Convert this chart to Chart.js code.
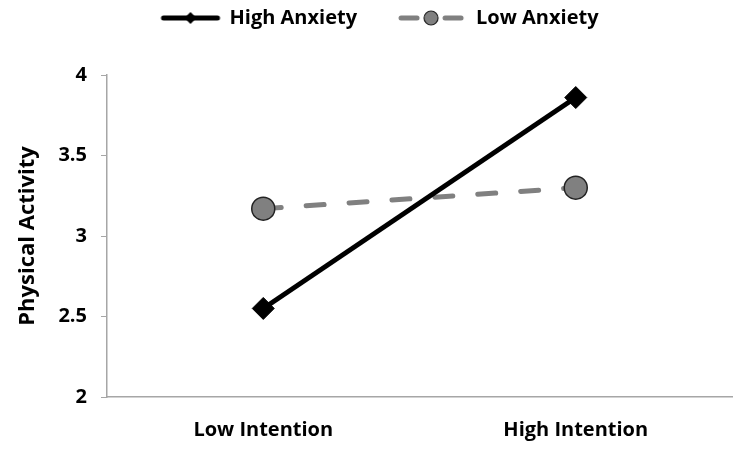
<!DOCTYPE html>
<html><head><meta charset="utf-8">
<script src="https://cdn.jsdelivr.net/npm/chart.js@4/dist/chart.umd.min.js"></script>
<style>html,body{margin:0;padding:0;background:#fff}#wrap{width:745px;height:449px}</style>
</head><body><div id="wrap"><canvas id="c" width="745" height="449"></canvas></div>
<script>
const categories = ["Low Intention", "High Intention"];
const seriesNames = ["High Anxiety", "Low Anxiety"];
const highAnxiety = [2.55, 3.86];
const lowAnxiety = [3.17, 3.30];
const yTicks = [2, 2.5, 3, 3.5, 4];
const yTitle = "Physical Activity";

const FONT = "'Open Sans', sans-serif";
const FS = 20;
const BOXW = 101;

function legendIcon(kind){
  const w = BOXW + 4, h = 18;
  const cv = document.createElement('canvas');
  cv.width = w; cv.height = h;
  const g = cv.getContext('2d');
  const cy = h/2;
  if (kind === 0){
    const a = 45, b = w - 2, m = (a + b) / 2;
    g.strokeStyle = '#000'; g.lineWidth = 5; g.lineCap = 'round';
    g.beginPath(); g.moveTo(a + 2, cy); g.lineTo(b - 2, cy); g.stroke();
    g.fillStyle = '#000';
    g.beginPath(); g.moveTo(m, cy-6); g.lineTo(m+6, cy); g.lineTo(m, cy+6); g.lineTo(m-6, cy); g.closePath(); g.fill();
  } else {
    const a = 35, b = w - 4, m = (a + b) / 2;
    g.strokeStyle = '#808080'; g.lineWidth = 5; g.lineCap = 'round';
    g.beginPath(); g.moveTo(a + 3, cy); g.lineTo(m - 14, cy); g.stroke();
    g.beginPath(); g.moveTo(m + 14, cy); g.lineTo(b - 3, cy); g.stroke();
    g.fillStyle = '#808080'; g.strokeStyle = '#222'; g.lineWidth = 1.2;
    g.beginPath(); g.arc(m, cy, 7, 0, Math.PI*2); g.fill(); g.stroke();
  }
  return cv;
}
const icons = [legendIcon(0), legendIcon(1)];

new Chart(document.getElementById('c'), {
  type: 'line',
  data: {
    labels: categories,
    datasets: [
      {
        label: seriesNames[0], data: highAnxiety,
        borderColor: '#000', backgroundColor: '#000', borderWidth: 5,
        pointStyle: 'rectRot', pointRadius: 11, pointBackgroundColor: '#000',
        pointBorderColor: '#000', pointBorderWidth: 1, pointHoverRadius: 11
      },
      {
        label: seriesNames[1], data: lowAnxiety,
        borderColor: '#808080', backgroundColor: '#808080', borderWidth: 5,
        borderDash: [18, 25], borderCapStyle: 'round',
        pointStyle: 'circle', pointRadius: 11.5, pointBackgroundColor: '#808080',
        pointBorderColor: '#222', pointBorderWidth: 1.5, pointHoverRadius: 11.5
      }
    ]
  },
  options: {
    responsive: false, animation: false,
    layout: { padding: { left: -18, right: 10, top: 0, bottom: 0 } },
    plugins: {
      tooltip: { enabled: false },
      title: { display: true, text: '', weight: 500, font: { size: 10, lineHeight: 1 }, padding: { top: 27, bottom: 0 } },
      legend: {
        position: 'top',
        labels: {
          usePointStyle: true, pointStyleWidth: BOXW,
          color: '#000', font: { family: FONT, size: FS, weight: 'bold' },
          padding: 8,
          generateLabels: (chart) => chart.data.datasets.map((d, i) => ({
            text: d.label, pointStyle: icons[i], datasetIndex: i,
            fillStyle: d.borderColor, strokeStyle: d.borderColor, lineWidth: 0, hidden: false
          }))
        }
      }
    },
    scales: {
      x: {
        offset: true,
        afterFit: (s) => { s.height = 52; },
        grid: { display: false, drawTicks: false },
        border: { color: '#a6a6a6', width: 1.5 },
        ticks: { color: '#000', font: { family: FONT, size: FS, weight: 'bold' }, padding: 21 }
      },
      y: {
        min: 2, max: 4,
        afterBuildTicks: (s) => { s.ticks = yTicks.map(v => ({ value: v })); },
        afterFit: (s) => { s.width = 125; },
        grid: { display: true, drawOnChartArea: false, drawTicks: true, tickLength: 6, color: '#a6a6a6' },
        border: { color: '#a6a6a6', width: 1.5 },
        ticks: { color: '#000', font: { family: FONT, size: FS, weight: 'bold' }, padding: 14,
          callback: (v) => String(v) },
        title: { display: true, text: yTitle, color: '#000', font: { family: FONT, size: 22, weight: 'bold' }, padding: { top: 33, bottom: 0 } }
      }
    }
  }
});
</script></body></html>
